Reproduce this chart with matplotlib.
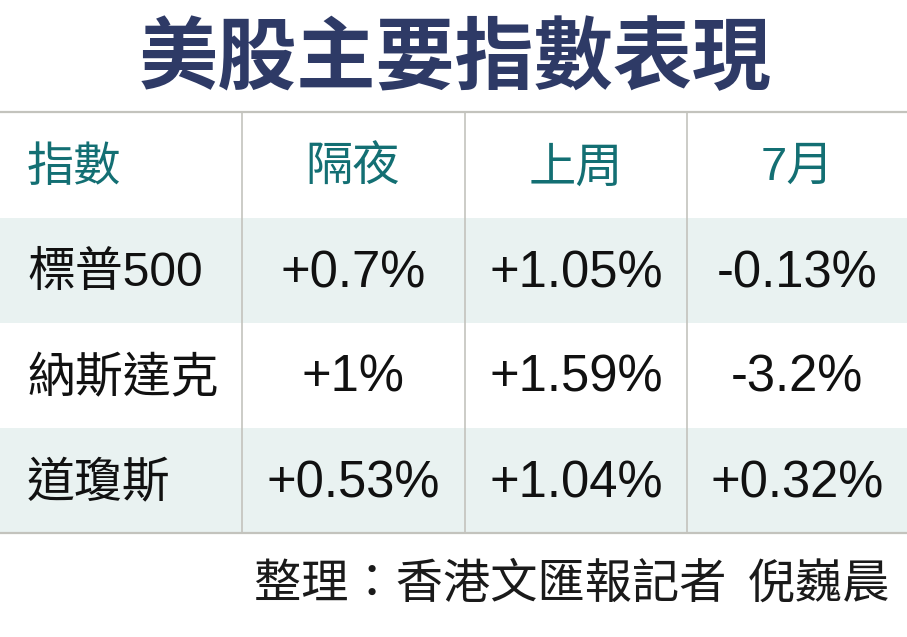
import matplotlib
matplotlib.use("Agg")
import matplotlib.pyplot as plt
from matplotlib.patches import Rectangle

title = "美股主要指數表現"
headers = ["指數", "隔夜", "上周", "7月"]
indices = ["標普500", "納斯達克", "道瓊斯"]
overnight = ["+0.7%", "+1%", "+0.53%"]
last_week = ["+1.05%", "+1.59%", "+1.04%"]
july = ["-0.13%", "-3.2%", "+0.32%"]
footer = "整理：香港文匯報記者  倪巍晨"

W, H = 907, 637
fig = plt.figure(figsize=(W / 100, H / 100), dpi=100)
ax = fig.add_axes([0, 0, 1, 1])
ax.set_xlim(0, W)
ax.set_ylim(H, 0)
ax.axis("off")

CJK = ["Noto Sans CJK TC", "DejaVu Sans"]
NUM = ["Liberation Sans", "Noto Sans CJK TC"]

title_color = "#2e3a66"
head_color = "#136f73"
shade = "#e9f2f1"
line_c = "#c3c3bd"

table_top, table_bot = 112, 533
header_h = 106
row_h = (table_bot - table_top - header_h) / 3
col_x = [0, 242, 465, 687, W]
col_cx = [27, 353, 576, 797]

ax.text(455, 60, title, ha="center", va="center", fontsize=57,
        fontweight="bold", color=title_color, family=CJK)

# shaded rows
for i in range(3):
    y0 = table_top + header_h + i * row_h
    if i % 2 == 0:
        ax.add_patch(Rectangle((0, y0), W, row_h, facecolor=shade, edgecolor="none"))

ax.plot([0, W], [table_top, table_top], color=line_c, lw=1.6)
ax.plot([0, W], [table_bot, table_bot], color=line_c, lw=1.6)
for x in col_x[1:4]:
    ax.plot([x, x], [table_top, table_bot], color=line_c, lw=1.2)

hy = table_top + header_h / 2 + 3
for j, h in enumerate(headers):
    ha = "left" if j == 0 else "center"
    ax.text(col_cx[j], hy, h, ha=ha, va="center", fontsize=34,
            color=head_color, family=NUM if j == 3 else CJK)

columns = [overnight, last_week, july]
for i in range(3):
    cy = table_top + header_h + (i + 0.5) * row_h + 3
    name = indices[i]
    ax.text(col_cx[0], cy, name, ha="left", va="center", fontsize=34.5,
            color="#111111", family=CJK if not any(c.isdigit() for c in name) else NUM)
    for j, col in enumerate(columns):
        ax.text(col_cx[j + 1], cy, col[i], ha="center", va="center", fontsize=36.5,
                color="#111111", family=NUM)

ax.text(890, 584, footer, ha="right", va="center", fontsize=34,
        color="#1a1a1a", family=CJK, fontweight="light")

fig.savefig("out.png", dpi=100)
